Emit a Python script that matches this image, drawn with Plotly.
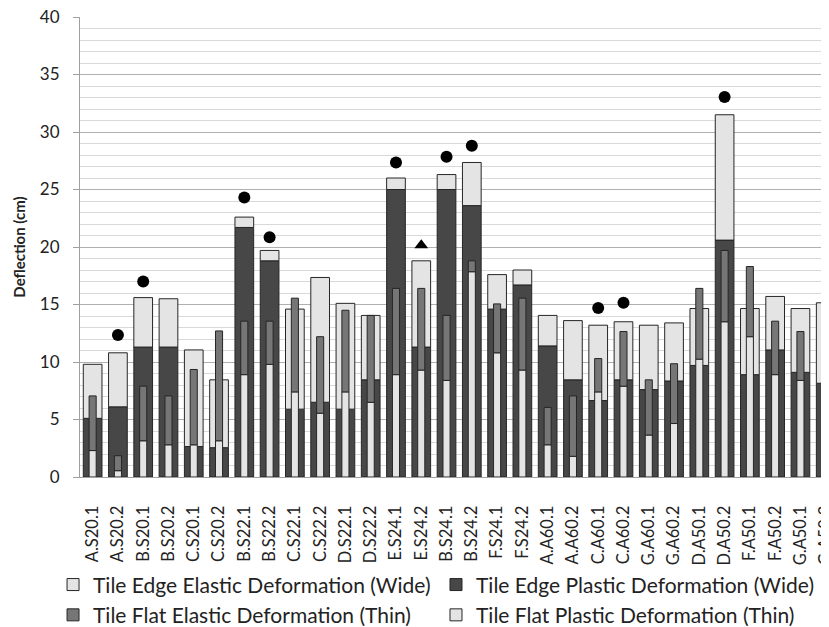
import plotly.graph_objects as go

categories = ["A.S20.1", "A.S20.2", "B.S20.1", "B.S20.2", "C.S20.1", "C.S20.2",
              "B.S22.1", "B.S22.2", "C.S22.1", "C.S22.2", "D.S22.1", "D.S22.2",
              "E.S24.1", "E.S24.2", "B.S24.1", "B.S24.2", "F.S24.1", "F.S24.2",
              "A.A60.1", "A.A60.2", "C.A60.1", "C.A60.2", "G.A60.1", "G.A60.2",
              "D.A50.1", "D.A50.2", "F.A50.1", "F.A50.2", "G.A50.1", "G.A50.2"]

edge_plastic = [5.1, 6.1, 11.3, 11.3, 2.65, 2.55, 21.7, 18.8, 5.9, 6.5, 5.9, 8.45,
                25.0, 11.3, 25.0, 23.6, 14.6, 16.7, 11.4, 8.45, 6.65, 8.45, 7.6, 8.35,
                9.7, 20.6, 8.9, 11.05, 9.1, 8.15]
edge_elastic = [4.7, 4.7, 4.3, 4.2, 8.4, 5.9, 0.9, 0.9, 8.7, 10.85, 9.2, 5.6,
                1.0, 7.5, 1.3, 3.75, 3.0, 1.3, 2.65, 5.15, 6.55, 5.05, 5.6, 5.05,
                4.95, 10.9, 5.75, 4.65, 5.55, 7.0]
flat_plastic = [2.3, 0.55, 3.15, 2.8, 2.8, 3.15, 8.9, 9.8, 7.4, 5.55, 7.4, 6.5,
                8.9, 9.3, 8.4, 17.85, 10.8, 9.3, 2.8, 1.8, 7.4, 7.9, 3.65, 4.65,
                10.25, 13.5, 12.2, 8.9, 8.4, 10.1]
flat_elastic = [4.75, 1.3, 4.75, 4.25, 6.55, 9.55, 4.65, 3.75, 8.15, 6.65, 7.1, 7.55,
                7.5, 7.1, 5.65, 0.95, 4.25, 6.25, 3.25, 5.25, 2.9, 4.75, 4.8, 5.2,
                6.15, 6.2, 6.1, 4.65, 4.25, 0.0]

circle_cats = ["A.S20.2", "B.S20.1", "B.S22.1", "B.S22.2", "E.S24.1", "B.S24.1",
               "B.S24.2", "C.A60.1", "C.A60.2", "D.A50.2"]
circle_vals = [12.35, 17.0, 24.3, 20.85, 27.35, 27.85, 28.8, 14.7, 15.15, 33.05]
triangle_cats = ["E.S24.2"]
triangle_vals = [20.15]

DARK = "#474747"
MED = "#767676"
LIGHT = "#e4e4e4"
OUTLINE = "#262626"
FONT = "Lato"
TXT = "#222222"

fig = go.Figure()
line = dict(color=OUTLINE, width=1)

fig.add_trace(go.Bar(x=categories, y=edge_plastic, base=[0] * len(categories), width=0.74,
                     marker=dict(color=DARK, line=line),
                     name="Tile Edge Plastic Deformation (Wide)", legend="legend2", legendrank=1))
fig.add_trace(go.Bar(x=categories, y=edge_elastic, base=edge_plastic, width=0.74,
                     marker=dict(color=LIGHT, line=line),
                     name="Tile Edge Elastic Deformation (Wide)", legend="legend", legendrank=1))
fig.add_trace(go.Bar(x=categories, y=flat_plastic, base=[0] * len(categories), width=0.28,
                     marker=dict(color=LIGHT, line=line),
                     name="Tile Flat Plastic Deformation (Thin)", legend="legend2", legendrank=2))
fig.add_trace(go.Bar(x=categories, y=flat_elastic, base=flat_plastic, width=0.28,
                     marker=dict(color=MED, line=line),
                     name="Tile Flat Elastic Deformation (Thin)", legend="legend", legendrank=2))
fig.add_trace(go.Scatter(x=circle_cats, y=circle_vals, mode="markers",
                         marker=dict(symbol="circle", size=12, color="black"),
                         showlegend=False))
fig.add_trace(go.Scatter(x=triangle_cats, y=triangle_vals, mode="markers",
                         marker=dict(symbol="triangle-up", size=12, color="black"),
                         showlegend=False))

legend_common = dict(orientation="v", xanchor="left", yanchor="top",
                     font=dict(size=21, family=FONT, color=TXT),
                     traceorder="normal", itemclick=False, itemdoubleclick=False,
                     bgcolor="rgba(0,0,0,0)")

# The page body adds an 8px offset, so the figure is sized to fill the rest of the window.
fig.update_layout(
    width=821, height=619,
    margin=dict(l=72, r=0, t=9, b=150, autoexpand=False),
    paper_bgcolor="white", plot_bgcolor="white",
    barmode="overlay",
    font=dict(family=FONT, color=TXT),
    showlegend=True,
    legend=dict(x=-0.036, y=-0.190, **legend_common),
    legend2=dict(x=0.4753, y=-0.190, **legend_common),
    xaxis=dict(type="category", categoryorder="array", categoryarray=categories,
               range=[-0.5, 29.13], tickangle=-90, tickfont=dict(size=16.5),
               ticklabelstandoff=21,
               showline=True, linecolor="#a0a0a0", linewidth=1, showgrid=False,
               ticks="", fixedrange=True, automargin=False),
    yaxis=dict(range=[0, 40], dtick=5, tickfont=dict(size=17),
               showline=True, linecolor="#a0a0a0", linewidth=1,
               ticks="outside", ticklen=6, tickcolor="#a0a0a0", ticklabelstandoff=10,
               ticklabeloverflow="allow",
               showgrid=True, gridcolor="#b0b0b0", gridwidth=1,
               minor=dict(dtick=1, showgrid=True, gridcolor="#d9d9d9", gridwidth=1),
               zeroline=False, automargin=False,
               title=dict(text="<b>Deflection (cm)</b>", font=dict(size=15), standoff=10),
               fixedrange=True),
)

fig.write_html("out.html", config={"displayModeBar": False})
